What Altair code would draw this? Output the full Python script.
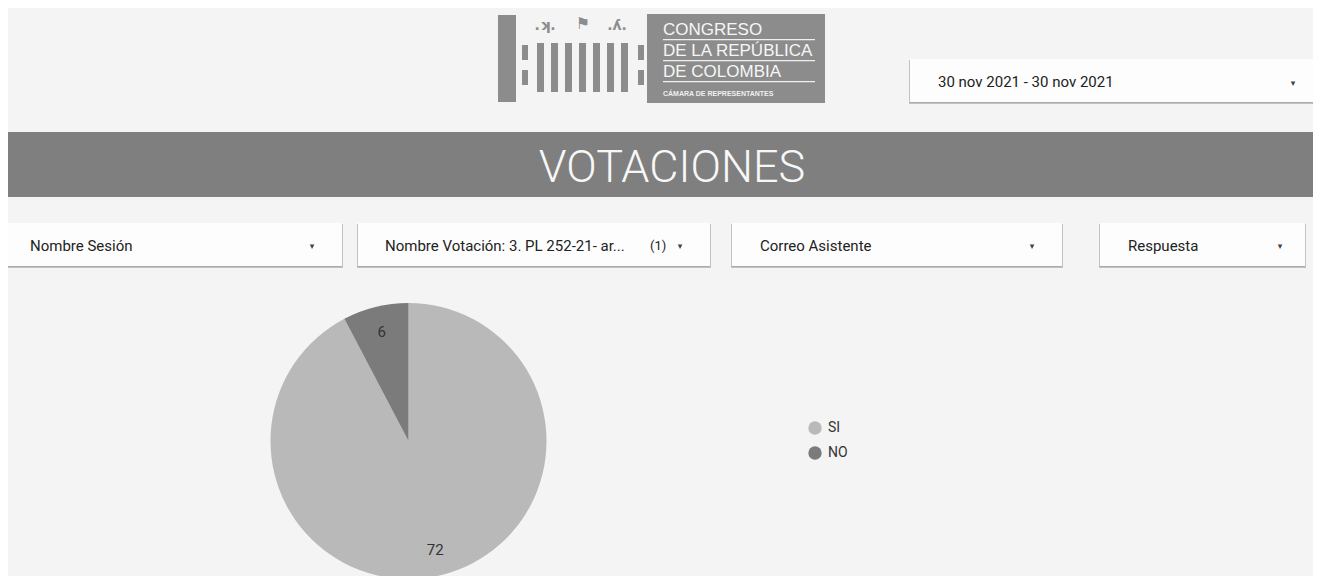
import altair as alt
import pandas as pd

# ---- data ----
categorias = ["SI", "NO"]
votos = [72, 6]
orden = [0, 1]
colores = ["#b9b9b9", "#7b7b7b"]

filtros = ["Nombre Sesión", "Nombre Votación: 3. PL 252-21- ar...", "Correo Asistente", "Respuesta"]
filtro_extra = "(1)"
rango_fechas = "30 nov 2021 - 30 nov 2021"
titulo = "VOTACIONES"
logo_lineas = ["CONGRESO", "DE LA REPÚBLICA", "DE COLOMBIA", "CÁMARA DE REPRESENTANTES"]

# ---- layout (page pixels of the reference) ----
OFF = 8
W, H = 1305, 568


def P(v):
    return v - OFF


def box(x, x2, y, y2, color, opacity=1.0):
    return alt.Chart(alt.Data(values=[{}])).mark_rect(color=color, opacity=opacity).encode(
        x=alt.value(P(x)), x2=alt.value(P(x2)), y=alt.value(P(y)), y2=alt.value(P(y2))
    )


def txt(s, x, y, size, color="#222222", align="left", font="Roboto", weight="normal"):
    return alt.Chart(alt.Data(values=[{"t": s}])).mark_text(
        align=align, baseline="alphabetic", fontSize=size, color=color, font=font, fontWeight=weight
    ).encode(x=alt.value(P(x)), y=alt.value(P(y)), text="t:N")


def dropdown(x, x2, y, y2):
    return [
        box(x - 1, x2 + 1, y + 1, y2 + 2, "#c2c2c2"),
        box(x, x2, y2 - 1, y2 + 1, "#a0a0a0", 0.7),
        box(x, x2, y, y2, "#fdfdfd"),
    ]


layers = []
layers.append(box(0, 1330, 0, 600, "#f4f4f4"))

# logo
logo_gray = "#8c8c8c"
layers.append(box(498, 516, 15, 102, logo_gray))
layers.append(box(647, 825, 14, 103, logo_gray))
for (a, b) in [(522, 528), (638, 644)]:
    layers.append(box(a, b, 45, 60, logo_gray))
    layers.append(box(a, b, 70, 85, logo_gray))
for a in [537, 551, 565, 579, 593, 607, 621]:
    layers.append(box(a, a + 7, 43, 92, logo_gray))
layers.append(txt(".ʞ.", 545, 30, 14, logo_gray, "center", "DejaVu Sans", "bold"))
layers.append(txt("⚑", 583, 29, 16, logo_gray, "center", "DejaVu Sans"))
layers.append(txt(".ʎ.", 617, 30, 14, logo_gray, "center", "DejaVu Sans", "bold"))
layers.append(txt(logo_lineas[0], 663, 35, 17, "#f6f6f6", font="Liberation Sans"))
layers.append(txt(logo_lineas[1], 663, 56, 17, "#f6f6f6", font="Liberation Sans"))
layers.append(txt(logo_lineas[2], 663, 77, 17, "#f6f6f6", font="Liberation Sans"))
layers.append(txt(logo_lineas[3], 663, 96, 7, "#f0f0f0", font="Liberation Sans", weight="bold"))
for yy in [39, 60, 81]:
    layers.append(box(663, 815, yy, yy + 1.3, "#f0f0f0"))

# date selector
layers += dropdown(910, 1330, 59, 102)
layers.append(txt(rango_fechas, 938, 87, 15, "#222222"))
layers.append(txt("▾", 1293, 86, 9, "#444444", "center", "DejaVu Sans"))

# header band
layers.append(box(0, 1330, 132, 197, "#7f7f7f"))
layers.append(txt(titulo, 672, 182, 45, "#f7f7f7", "center", "Roboto", 300))

# filter dropdowns
boxes = [(0, 342, 30, 312), (358, 710, 385, 680), (732, 1062, 760, 1032), (1100, 1305, 1128, 1280)]
for (a, b, tx, ax), label in zip(boxes, filtros):
    layers += dropdown(a, b, 223, 266)
    layers.append(txt(label, tx, 251, 15, "#222222"))
    layers.append(txt("▾", ax, 249, 9, "#444444", "center", "DejaVu Sans"))
layers.append(txt(filtro_extra, 650, 250, 13, "#222222"))

# pie
pie_df = pd.DataFrame({"Respuesta": categorias, "Votos": votos, "orden": orden})
base = alt.Chart(pie_df).encode(
    theta=alt.Theta("Votos:Q", stack=True),
    order=alt.Order("orden:Q"),
    x=alt.value(P(408.5)),
    y=alt.value(P(441)),
)
arcs = base.mark_arc(outerRadius=138).encode(
    color=alt.Color(
        "Respuesta:N",
        scale=alt.Scale(domain=categorias, range=colores),
        sort=categorias,
        legend=alt.Legend(
            title=None,
            orient="none",
            legendX=P(808),
            legendY=P(421),
            symbolType="circle",
            symbolSize=180,
            symbolStrokeWidth=0,
            labelFontSize=14,
            labelFont="Roboto",
            labelColor="#333333",
            labelOffset=6,
            rowPadding=11,
            padding=0,
        ),
    )
)
labels = base.mark_text(radius=112, fontSize=15, color="#333333", font="Roboto").encode(text="Votos:Q")
layers += [arcs, labels]

chart = alt.layer(*layers).properties(
    width=W,
    height=H,
    autosize=alt.AutoSizeParams(type="none"),
    padding=0,
    background="#f4f4f4",
).configure_view(stroke=None)

chart.save("out.html", embed_options={"renderer": "svg", "actions": False})
